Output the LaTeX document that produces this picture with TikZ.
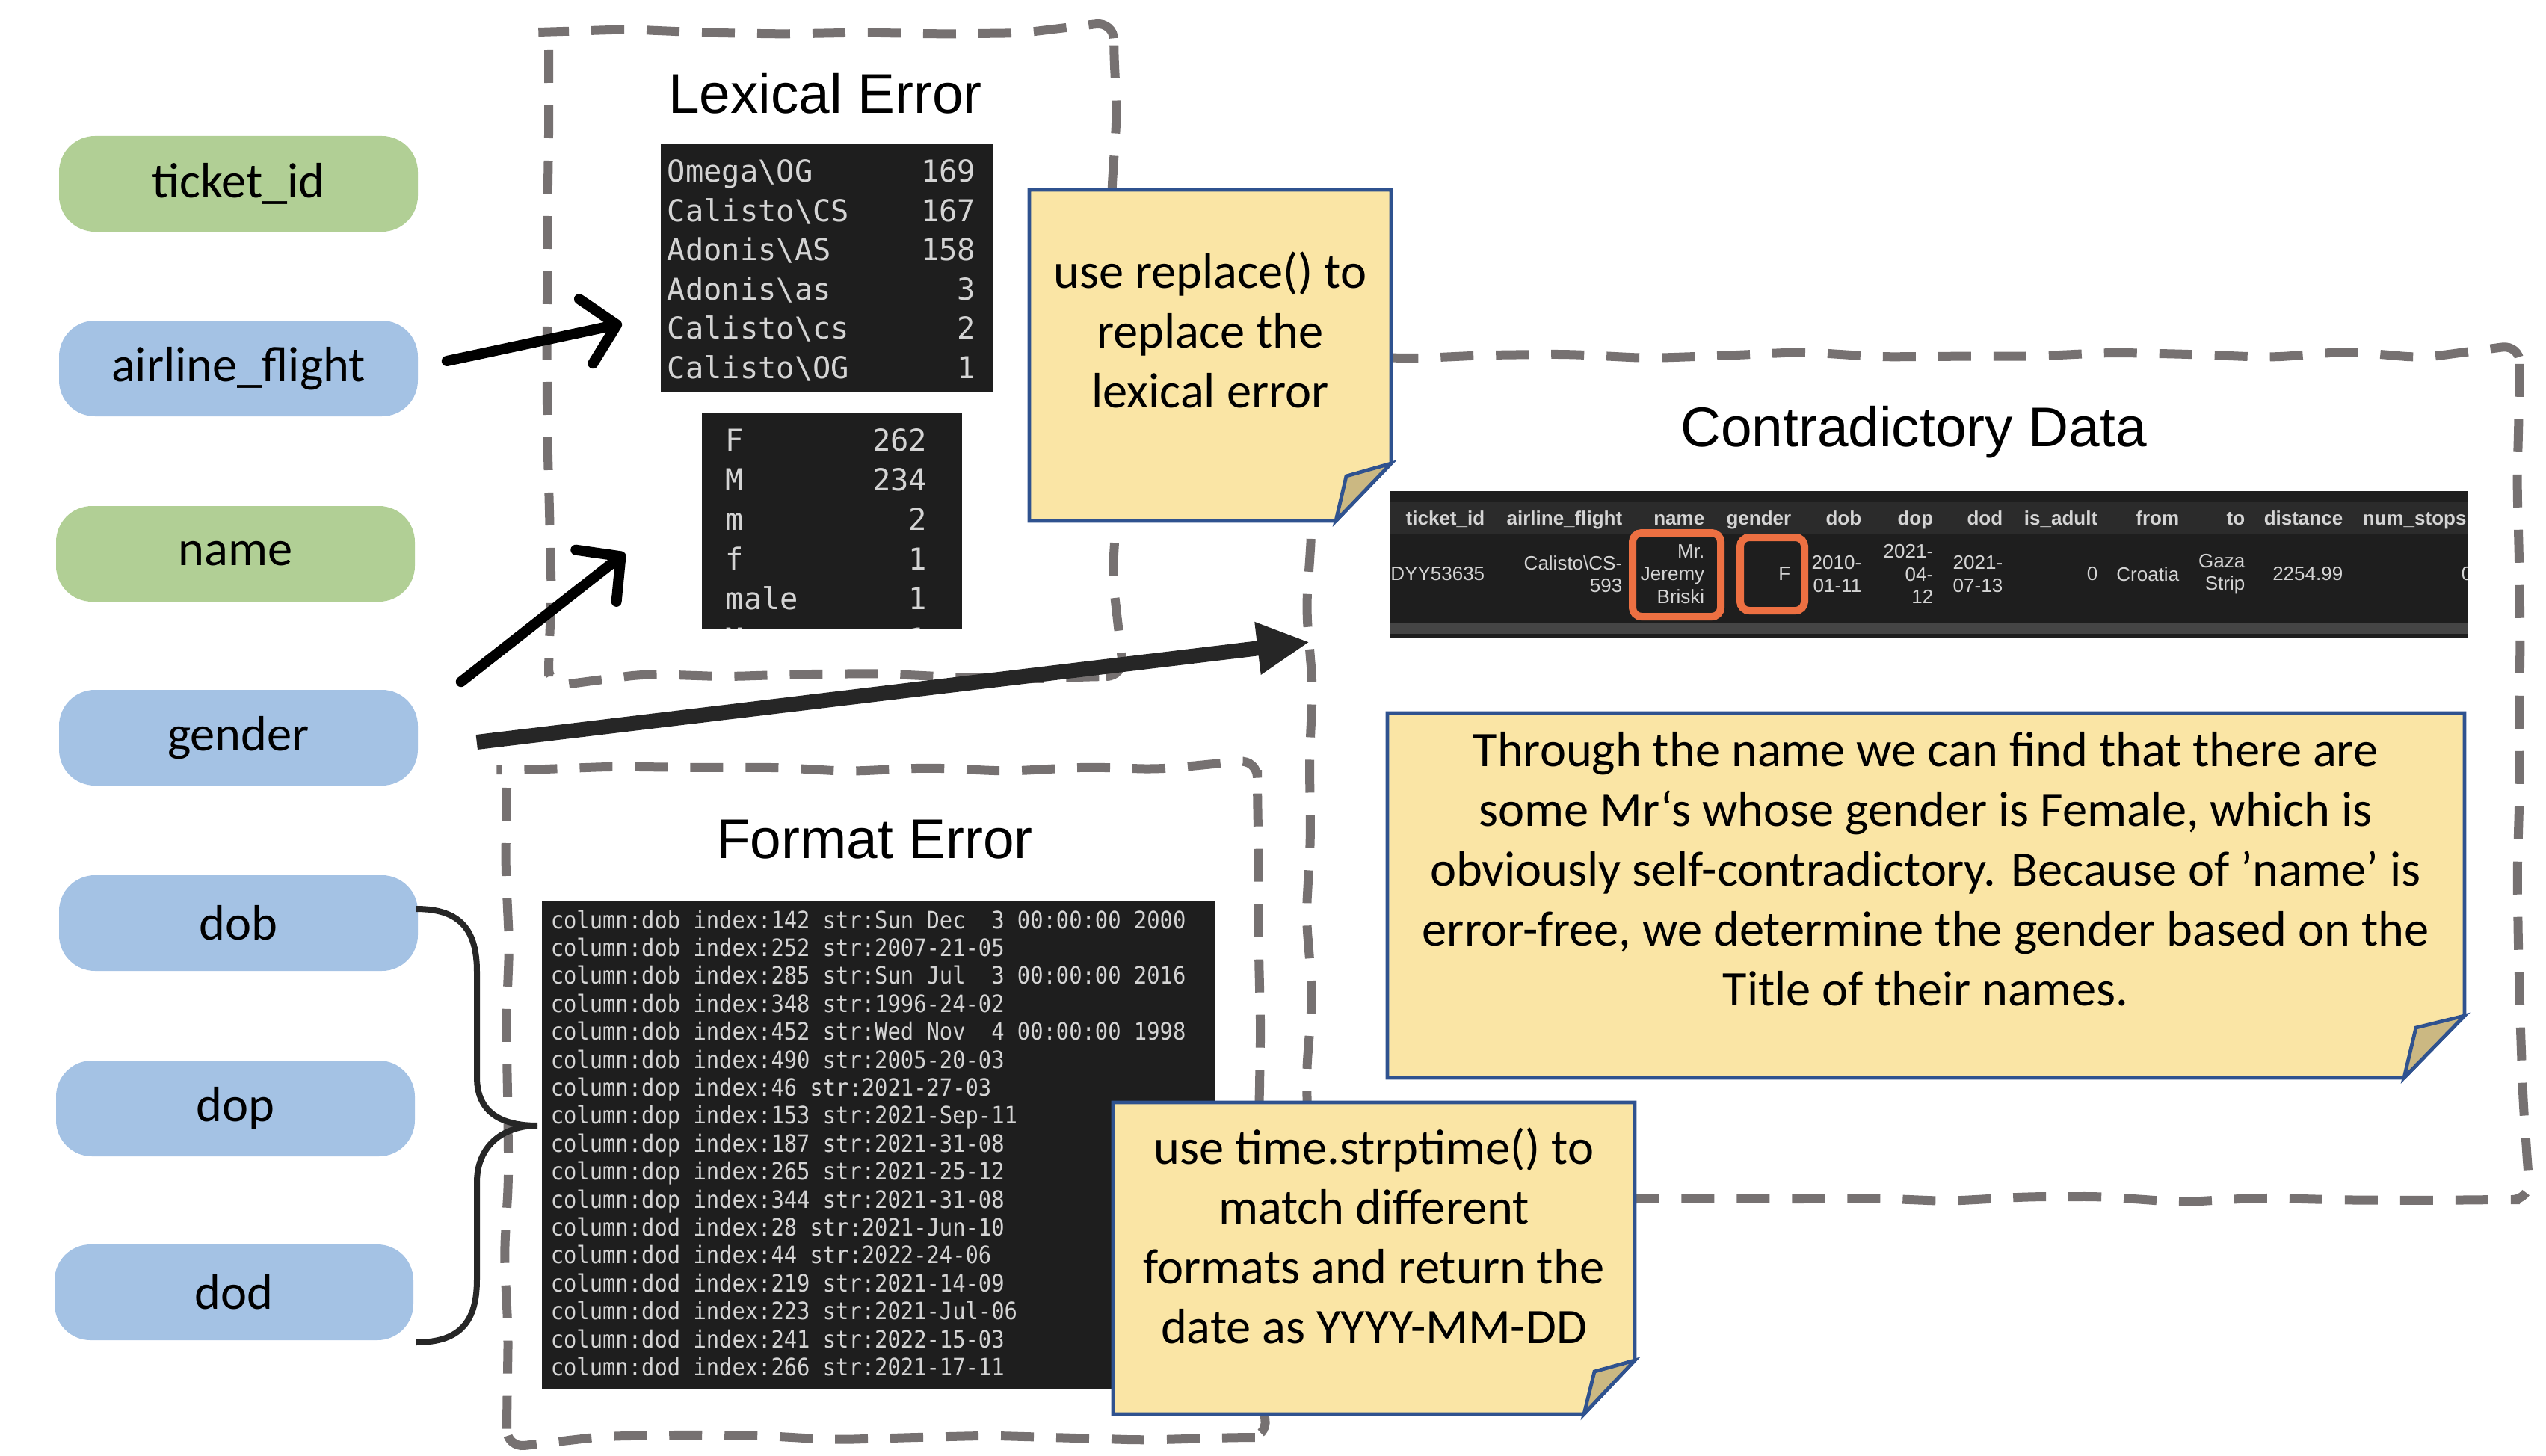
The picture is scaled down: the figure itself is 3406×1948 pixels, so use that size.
\documentclass[tikz,border=0pt]{standalone}
\usepackage{fontspec}
\setmainfont{Carlito}
\newfontfamily\arialfont{Liberation Sans}
\newfontfamily\menlofont{DejaVu Sans Mono}
\newfontfamily\consfont[FakeStretch=0.9]{DejaVu Sans Mono}
\usepackage{tikz}
\usetikzlibrary{arrows.meta,calc,decorations.pathmorphing}
\usepackage{color}

\definecolor{pillgreen}{RGB}{177,207,149}
\definecolor{pillblue}{RGB}{164,194,228}
\definecolor{sketchgray}{RGB}{118,113,113}
\definecolor{termbg}{RGB}{30,30,30}
\definecolor{termtxt}{RGB}{212,212,212}
\definecolor{hdrbg}{RGB}{43,43,43}
\definecolor{bandbg}{RGB}{69,69,69}
\definecolor{notefill}{RGB}{250,229,165}
\definecolor{noteline}{RGB}{47,82,143}
\definecolor{foldfill}{RGB}{203,184,130}
\definecolor{darkline}{RGB}{38,38,38}
\definecolor{hilite}{RGB}{237,112,66}

\begin{document}
\begin{tikzpicture}[x=0.25pt,y=0.25pt,yscale=-1,xscale=1,
  field/.style={rounded corners=12pt,minimum width=120pt,minimum height=32pt,inner sep=0pt,font=\fontsize{16.6}{20}\selectfont},
  keyfield/.style={field,fill=pillgreen},
  plainfield/.style={field,fill=pillblue},
  sketch/.style={draw=sketchgray,line width=3pt,dash pattern=on 11pt off 7.5pt,decorate,decoration={random steps,segment length=26pt,amplitude=1.2pt},rounded corners=6pt},
  heading/.style={font=\arialfont\fontsize{18.7}{22}\selectfont,anchor=base,inner sep=0pt},
  console/.style={fill=termbg,inner sep=0pt},
  menlo/.style={text=termtxt,font=\menlofont\fontsize{10.1}{13}\selectfont,inner sep=0pt},
  cons/.style={text=termtxt,font=\consfont\fontsize{8}{9}\selectfont,inner sep=0pt,anchor=base west},
  cellval/.style={text=termtxt,font=\arialfont\fontsize{6.5}{7.6}\selectfont,inner sep=0pt,align=right},
  barb/.style={line width=3.5pt,line cap=round,-{Straight Barb[length=10.5pt,width=22pt,round]}},
  fat/.style={draw=darkline,line width=5pt,-{Triangle[length=17.5pt,width=16.5pt]}},
  curly/.style={draw=darkline,line width=2pt},
  hibox/.style={draw=hilite,line width=2.5pt,rounded corners=3pt,inner sep=0pt},
  sticky/.style={draw=noteline,line width=1.2pt,fill=notefill},
  flap/.style={draw=noteline,line width=1.2pt,fill=foldfill},
  memo/.style={align=center,inner sep=0pt,font=\fontsize{16.6}{20}\selectfont}
]
\pgfmathsetseed{11}
\useasboundingbox (0,0) rectangle (3406,1948);

%Dashed Boxes
\draw[sketch] (734,43) rectangle (1490,905);
\draw[sketch] (678,1030) rectangle (1682,1923);
\draw[sketch] (1752,475) rectangle (3371,1605);

% Text Node
\node[heading] (lexhead) at (1104,152) {Lexical Error};
% Text Node
\node[heading] (fmthead) at (1170,1148) {Format Error};
% Text Node
\node[heading] (conhead) at (2560,597) {Contradictory Data};

%Rounded Rect
\node[keyfield] (ticket) at (319,246) {ticket\_id};
\node[plainfield] (airline) at (319,493) {airline\_flight};
\node[keyfield] (name) at (315,741) {name};
\node[plainfield] (gender) at (319,987) {gender};
\node[plainfield] (dob) at (319,1235) {dob};
\node[plainfield] (dop) at (315,1483) {dop};
\node[plainfield] (dod) at (313,1729) {dod};

%Shape: Rectangle [value counts of airline_flight]
\node[console,minimum width=111.25pt,minimum height=83pt] (lexcount) at (1106.5,359) {};
\foreach \lbl/\cnt [count=\i from 0] in {Omega\textbackslash OG/169,Calisto\textbackslash CS/167,Adonis\textbackslash AS/158,Adonis\textbackslash as/3,Calisto\textbackslash cs/2,Calisto\textbackslash OG/1}{
  \node[menlo,anchor=base west] (lexl\i) at (892,244+52.4*\i) {\lbl};
  \node[menlo,anchor=base east] (lexr\i) at (1306,244+52.4*\i) {\cnt};
}
%Shape: Rectangle [value counts of gender]
\node[console,minimum width=87pt,minimum height=72pt] (gencount) at (1113,697) {};
\begin{scope}
\clip (939,553) rectangle (1287,841);
\foreach \lbl/\cnt [count=\i from 0] in {F/262,M/234,m/2,f/1,male/1,M/1}{
  \node[menlo,anchor=base west] (genl\i) at (970,603+53.2*\i) {\lbl};
  \node[menlo,anchor=base east] (genr\i) at (1241,603+53.2*\i) {\cnt};
}
\end{scope}

%Shape: Rectangle [format log]
\node[console,minimum width=225pt,minimum height=163pt] (fmtlog) at (1175,1532) {};
\foreach \ln [count=\i from 0] in {column:dob index:142 str:Sun Dec\ \ 3 00:00:00 2000,column:dob index:252 str:2007-21-05,column:dob index:285 str:Sun Jul\ \ 3 00:00:00 2016,column:dob index:348 str:1996-24-02,column:dob index:452 str:Wed Nov\ \ 4 00:00:00 1998,column:dob index:490 str:2005-20-03,column:dop index:46 str:2021-27-03,column:dop index:153 str:2021-Sep-11,column:dop index:187 str:2021-31-08,column:dop index:265 str:2021-25-12,column:dop index:344 str:2021-31-08,column:dod index:28 str:2021-Jun-10,column:dod index:44 str:2022-24-06,column:dod index:219 str:2021-14-09,column:dod index:223 str:2021-Jul-06,column:dod index:241 str:2022-15-03,column:dod index:266 str:2021-17-11}
  \node[cons] (log\i) at (736,1242+37.4*\i) {\ln};

%Shape: Rectangle [data row]
\node[console,minimum width=360.5pt,minimum height=49pt] (datarow) at (2580,755) {};
\fill[hdrbg] (1859,671) rectangle (3301,715);
\fill[bandbg] (1859,833) rectangle (3301,848);
\begin{scope}
\clip (1859,657) rectangle (3301,853);
\foreach \hd/\xr [count=\k] in {ticket\_id/1987,airline\_flight/2171,name/2281,gender/2397,dob/2491,dop/2587,dod/2680,is\_adult/2807,from/2916,to/3004,distance/3135}
  \node[cellval,font=\arialfont\bfseries\fontsize{6.5}{7.6}\selectfont,anchor=base east] (hd\k) at (\xr,702) {\hd};
\node[cellval,font=\arialfont\bfseries\fontsize{6.5}{7.6}\selectfont,anchor=base west] (hd12) at (3160,702) {num\_stops};
\foreach \val/\xr [count=\k] in {DYY53635/1987,Calisto\textbackslash CS-\\593/2171,Mr.\\Jeremy\\Briski/2281,F/2396,2010-\\01-11/2491,2021-\\04-\\12/2587,2021-\\07-13/2680,0/2807,Croatia/2916,Gaza\\Strip/3004,2254.99/3135,0/3308}
  \node[cellval,anchor=east] (val\k) at (\xr,768) {\val};
\end{scope}
\node[hibox,minimum width=29.5pt,minimum height=28pt] (hlname) at (2243,769) {};
\node[hibox,minimum width=21.5pt,minimum height=24.5pt] (hlgender) at (2371,768) {};

%Straight Lines
\coordinate (lexin) at (832,433);
\draw[barb] ($(airline.east)+(38,-10)$) -- (lexin);
\coordinate (genin) at (836,740);
\draw[barb] ($(gender.north east)+(57,-10)$) -- (genin);
\coordinate (contrain) at (1752,859);
\draw[fat] ($(gender.east)+(78,6)$) -- (contrain);

%Curve Lines
\coordinate (bracetip) at (719,1506);
\draw[curly] ($(dob.east)+(-3,-19)$) .. controls +(60,0) and +(0,-55) .. (638,1300) -- (638,1441) .. controls +(0,50) and +(-45,0) .. (bracetip);
\draw[curly] ($(dod.east)+(3,67)$) .. controls +(60,0) and +(0,55) .. (638,1712) -- (638,1582) .. controls +(0,-50) and +(-45,0) .. (bracetip);

%Shape: Folded Corner
\draw[sticky] (1377,254) -- (1861,254) -- (1861,620) -- (1787,697) -- (1377,697) -- cycle;
\draw[flap] (1861,620) -- (1801,637) -- (1787,697) -- cycle;
% Text Node
\node[memo] (replnote) at (1619,441) {use replace() to\\replace the\\lexical error};

%Shape: Folded Corner
\draw[sticky] (1856,954) -- (3297,954) -- (3297,1359) -- (3216,1442) -- (1856,1442) -- cycle;
\draw[flap] (3297,1359) -- (3232,1375) -- (3216,1442) -- cycle;
% Text Node
\node[memo] (gendnote) at (2576,1163) {Through the name we can find that there are\\some Mr‘s whose gender is Female, which is\\obviously self-contradictory. Because of ’name’ is\\error-free, we determine the gender based on the\\Title of their names.};

%Shape: Folded Corner
\draw[sticky] (1489,1475) -- (2187,1475) -- (2187,1820) -- (2119,1892) -- (1489,1892) -- cycle;
\draw[flap] (2187,1820) -- (2133,1835) -- (2119,1892) -- cycle;
% Text Node
\node[memo] (timenote) at (1838,1653) {use time.strptime() to\\match different\\formats and return the\\date as YYYY-MM-DD};
\end{tikzpicture}
\end{document}
